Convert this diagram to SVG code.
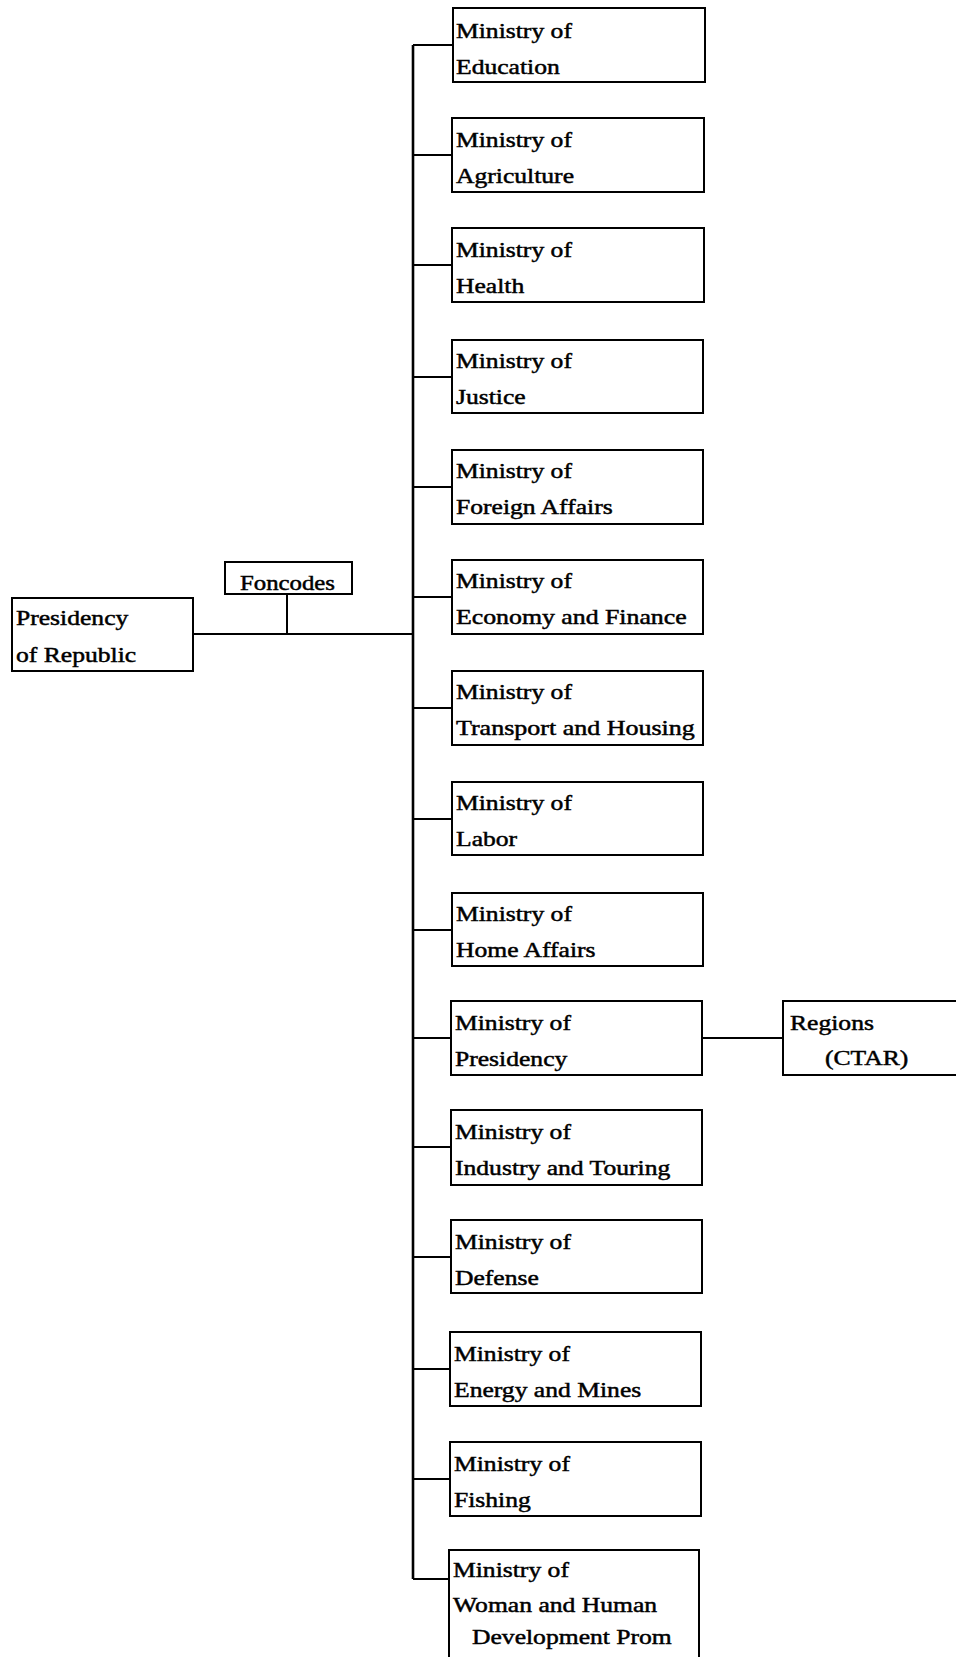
<svg xmlns="http://www.w3.org/2000/svg" width="956" height="1657" viewBox="0 0 956 1657">
<style>
.box{fill:#fff;stroke:#000;stroke-width:2}
.ln{fill:none;stroke:#000;stroke-width:2}
.tr{fill:none;stroke:#000;stroke-width:2.6}
text{font-family:"Liberation Serif","Times New Roman",serif;font-size:20px;fill:#000;stroke:#000;stroke-width:0.45}
</style>
<rect width="956" height="1657" fill="#fff"/>
<g id="connectors">
<line class="tr" x1="413" y1="45" x2="413" y2="1579"/>
<line class="ln" x1="193" y1="634" x2="413" y2="634"/>
<line class="ln" x1="287" y1="594" x2="287" y2="634"/>
<line class="ln" x1="413" y1="45" x2="453" y2="45"/>
<line class="ln" x1="413" y1="155" x2="452" y2="155"/>
<line class="ln" x1="413" y1="265" x2="452" y2="265"/>
<line class="ln" x1="413" y1="377" x2="452" y2="377"/>
<line class="ln" x1="413" y1="487" x2="452" y2="487"/>
<line class="ln" x1="413" y1="597" x2="452" y2="597"/>
<line class="ln" x1="413" y1="708" x2="452" y2="708"/>
<line class="ln" x1="413" y1="819" x2="452" y2="819"/>
<line class="ln" x1="413" y1="930" x2="452" y2="930"/>
<line class="ln" x1="413" y1="1038" x2="451" y2="1038"/>
<line class="ln" x1="413" y1="1147" x2="451" y2="1147"/>
<line class="ln" x1="413" y1="1257" x2="451" y2="1257"/>
<line class="ln" x1="413" y1="1369" x2="450" y2="1369"/>
<line class="ln" x1="413" y1="1479" x2="450" y2="1479"/>
<line class="ln" x1="413" y1="1579" x2="449" y2="1579"/>
<line class="ln" x1="702" y1="1038" x2="783" y2="1038"/>
</g>
<g id="presidency-republic">
<rect class="box" x="12" y="598" width="181" height="73"/>
<text transform="translate(16,625) scale(1.28,1)">Presidency</text>
<text transform="translate(16,662) scale(1.28,1)">of Republic</text>
</g>
<g id="foncodes">
<rect class="box" x="225" y="562" width="127" height="32"/>
<text transform="translate(240,590) scale(1.24,1)">Foncodes</text>
</g>
<g id="education">
<rect class="box" x="453" y="8" width="252" height="74"/>
<text transform="translate(456,38) scale(1.28,1)">Ministry of</text>
<text transform="translate(456,74) scale(1.28,1)">Education</text>
</g>
<g id="agriculture">
<rect class="box" x="452" y="118" width="252" height="74"/>
<text transform="translate(456,147) scale(1.28,1)">Ministry of</text>
<text transform="translate(456,183) scale(1.28,1)">Agriculture</text>
</g>
<g id="health">
<rect class="box" x="452" y="228" width="252" height="74"/>
<text transform="translate(456,257) scale(1.28,1)">Ministry of</text>
<text transform="translate(456,293) scale(1.28,1)">Health</text>
</g>
<g id="justice">
<rect class="box" x="452" y="340" width="251" height="73"/>
<text transform="translate(456,368) scale(1.28,1)">Ministry of</text>
<text transform="translate(456,404) scale(1.28,1)">Justice</text>
</g>
<g id="foreign-affairs">
<rect class="box" x="452" y="450" width="251" height="74"/>
<text transform="translate(456,478) scale(1.28,1)">Ministry of</text>
<text transform="translate(456,514) scale(1.28,1)">Foreign Affairs</text>
</g>
<g id="economy-finance">
<rect class="box" x="452" y="560" width="251" height="74"/>
<text transform="translate(456,588) scale(1.28,1)">Ministry of</text>
<text transform="translate(456,624) scale(1.29,1)">Economy and Finance</text>
</g>
<g id="transport-housing">
<rect class="box" x="452" y="671" width="251" height="74"/>
<text transform="translate(456,699) scale(1.28,1)">Ministry of</text>
<text transform="translate(456,735) scale(1.3,1)">Transport and Housing</text>
</g>
<g id="labor">
<rect class="box" x="452" y="782" width="251" height="73"/>
<text transform="translate(456,810) scale(1.28,1)">Ministry of</text>
<text transform="translate(456,846) scale(1.28,1)">Labor</text>
</g>
<g id="home-affairs">
<rect class="box" x="452" y="893" width="251" height="73"/>
<text transform="translate(456,921) scale(1.28,1)">Ministry of</text>
<text transform="translate(456,957) scale(1.28,1)">Home Affairs</text>
</g>
<g id="presidency-ministry">
<rect class="box" x="451" y="1001" width="251" height="74"/>
<text transform="translate(455,1030) scale(1.28,1)">Ministry of</text>
<text transform="translate(455,1066) scale(1.28,1)">Presidency</text>
</g>
<g id="regions">
<path class="ln" d="M960,1001 H783 V1075 H960"/>
<text transform="translate(790,1030) scale(1.28,1)">Regions</text>
<text transform="translate(825,1065) scale(1.28,1)">(CTAR)</text>
</g>
<g id="industry-touring">
<rect class="box" x="451" y="1110" width="251" height="75"/>
<text transform="translate(455,1139) scale(1.28,1)">Ministry of</text>
<text transform="translate(455,1175) scale(1.28,1)">Industry and Touring</text>
</g>
<g id="defense">
<rect class="box" x="451" y="1220" width="251" height="73"/>
<text transform="translate(455,1249) scale(1.28,1)">Ministry of</text>
<text transform="translate(455,1285) scale(1.28,1)">Defense</text>
</g>
<g id="energy-mines">
<rect class="box" x="450" y="1332" width="251" height="74"/>
<text transform="translate(454,1361) scale(1.28,1)">Ministry of</text>
<text transform="translate(454,1397) scale(1.28,1)">Energy and Mines</text>
</g>
<g id="fishing">
<rect class="box" x="450" y="1442" width="251" height="74"/>
<text transform="translate(454,1471) scale(1.28,1)">Ministry of</text>
<text transform="translate(454,1507) scale(1.28,1)">Fishing</text>
</g>
<g id="woman-human-development">
<rect class="box" x="449" y="1550" width="250" height="115"/>
<text transform="translate(453,1577) scale(1.28,1)">Ministry of</text>
<text transform="translate(453,1612) scale(1.28,1)">Woman and Human</text>
<text transform="translate(472,1644) scale(1.28,1)">Development Prom</text>
</g>
</svg>
